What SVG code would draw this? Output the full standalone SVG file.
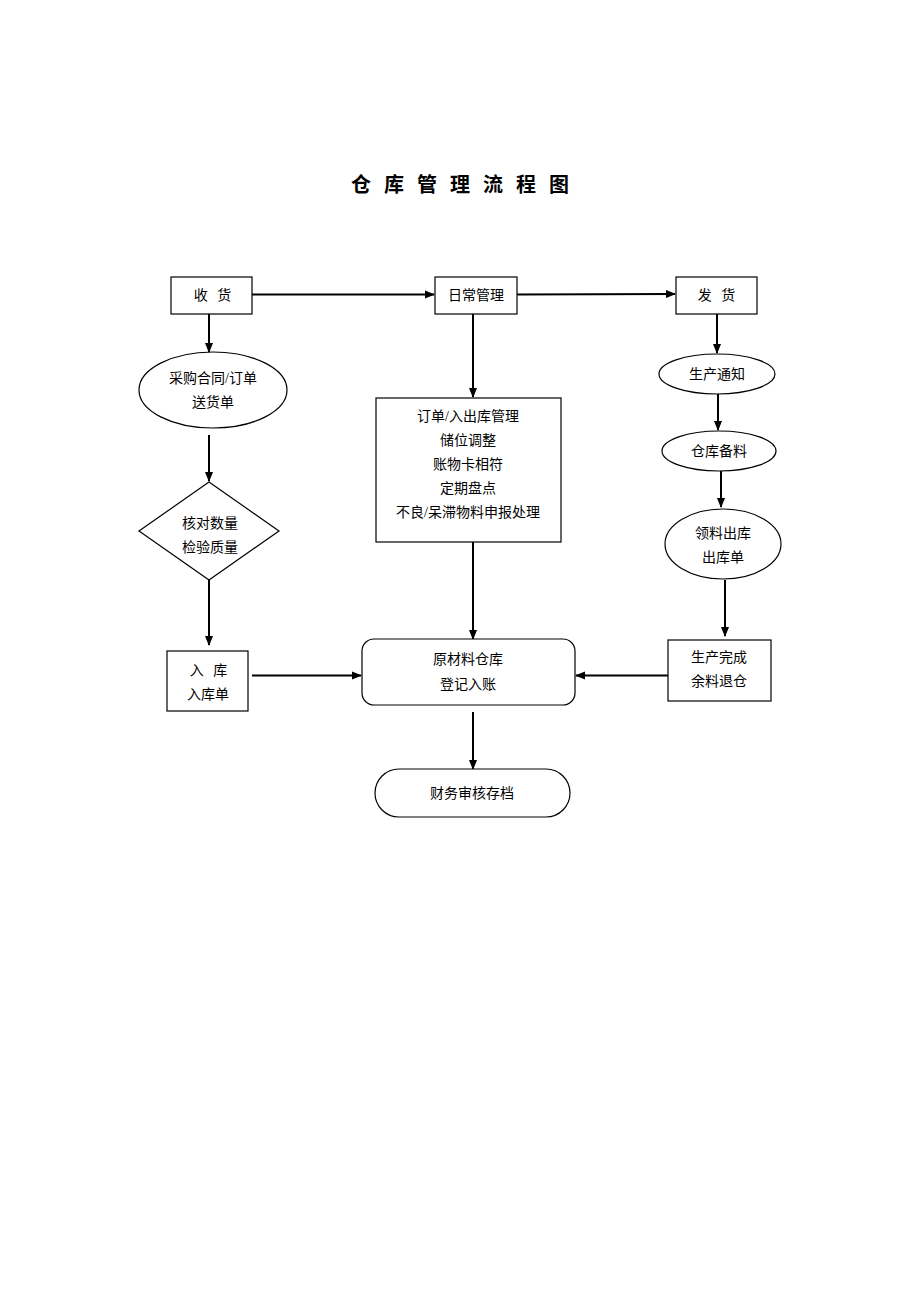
<svg xmlns="http://www.w3.org/2000/svg" width="920" height="1302" viewBox="0 0 920 1302">
<style>
text{font-family:"Liberation Serif","Noto Sans CJK SC",serif;font-size:14px;fill:#000;text-anchor:middle}
.title{font-size:20px;font-weight:bold;letter-spacing:4px}
.sp{letter-spacing:3px}
.shape{fill:#fff;stroke:#000;stroke-width:1.2}
.conn{stroke:#000;stroke-width:2;fill:none;marker-end:url(#arr)}
</style>
<defs>
<marker id="arr" markerWidth="10" markerHeight="10" refX="9" refY="5" orient="auto" markerUnits="userSpaceOnUse">
<path d="M0,1 L10,5 L0,9 Z" fill="#000"/>
</marker>
</defs>
<rect width="920" height="1302" fill="#fff"/>
<text class="title" x="462" y="192">仓 库 管 理 流 程 图</text>
<g id="connectors">
<line class="conn" x1="252" y1="294.5" x2="434" y2="294.5"/>
<line class="conn" x1="517" y1="294.5" x2="675" y2="294"/>
<line class="conn" x1="209" y1="314" x2="209" y2="352"/>
<line class="conn" x1="209" y1="435" x2="209" y2="481"/>
<line class="conn" x1="209" y1="580" x2="209" y2="645"/>
<line class="conn" x1="252" y1="675.5" x2="361" y2="675.5"/>
<line class="conn" x1="473" y1="314" x2="473" y2="397"/>
<line class="conn" x1="473" y1="542" x2="473" y2="639"/>
<line class="conn" x1="473" y1="712" x2="473" y2="769"/>
<line class="conn" x1="717" y1="314" x2="717" y2="353"/>
<line class="conn" x1="718" y1="393" x2="718" y2="430"/>
<line class="conn" x1="721" y1="470" x2="721" y2="507"/>
<line class="conn" x1="725" y1="580" x2="725" y2="636"/>
<line class="conn" x1="668" y1="675.5" x2="576" y2="675.5"/>
</g>
<g id="n-shouhuo">
<rect class="shape" x="171" y="277" width="81" height="37"/>
<text class="sp" x="214" y="300">收 货</text>
</g>
<g id="n-richang">
<rect class="shape" x="435" y="277" width="82" height="37"/>
<text x="476" y="300">日常管理</text>
</g>
<g id="n-fahuo">
<rect class="shape" x="676" y="277" width="81" height="37"/>
<text class="sp" x="718" y="300">发 货</text>
</g>
<g id="n-caigou">
<ellipse class="shape" cx="213" cy="390" rx="74" ry="38"/>
<text x="213" y="383">采购合同/订单</text>
<text x="213" y="407">送货单</text>
</g>
<g id="n-hedui">
<polygon class="shape" points="209,482 279,531 209,580 139,531"/>
<text x="210" y="528">核对数量</text>
<text x="210" y="552">检验质量</text>
</g>
<g id="n-ruku">
<rect class="shape" x="167" y="651" width="81" height="60"/>
<text class="sp" x="210" y="675">入 库</text>
<text x="208" y="699">入库单</text>
</g>
<g id="n-guanli">
<rect class="shape" x="376" y="398" width="185" height="144"/>
<text x="468" y="421">订单/入出库管理</text>
<text x="468" y="445">储位调整</text>
<text x="468" y="469">账物卡相符</text>
<text x="468" y="493">定期盘点</text>
<text x="468" y="517">不良/呆滞物料申报处理</text>
</g>
<g id="n-yuancailiao">
<rect class="shape" x="362" y="639" width="213" height="66" rx="12" ry="12"/>
<text x="468" y="664">原材料仓库</text>
<text x="468" y="689">登记入账</text>
</g>
<g id="n-caiwu">
<rect class="shape" x="375" y="769" width="195" height="48" rx="24" ry="24"/>
<text x="472" y="798">财务审核存档</text>
</g>
<g id="n-shengchan">
<ellipse class="shape" cx="717" cy="374" rx="58" ry="20"/>
<text x="717" y="379">生产通知</text>
</g>
<g id="n-beiliao">
<ellipse class="shape" cx="719" cy="451" rx="57" ry="20"/>
<text x="719" y="456">仓库备料</text>
</g>
<g id="n-lingliao">
<ellipse class="shape" cx="723" cy="544" rx="58" ry="35"/>
<text x="723" y="538">领料出库</text>
<text x="723" y="562">出库单</text>
</g>
<g id="n-wancheng">
<rect class="shape" x="668" y="640" width="103" height="61"/>
<text x="719" y="662">生产完成</text>
<text x="719" y="686">余料退仓</text>
</g>
</svg>
